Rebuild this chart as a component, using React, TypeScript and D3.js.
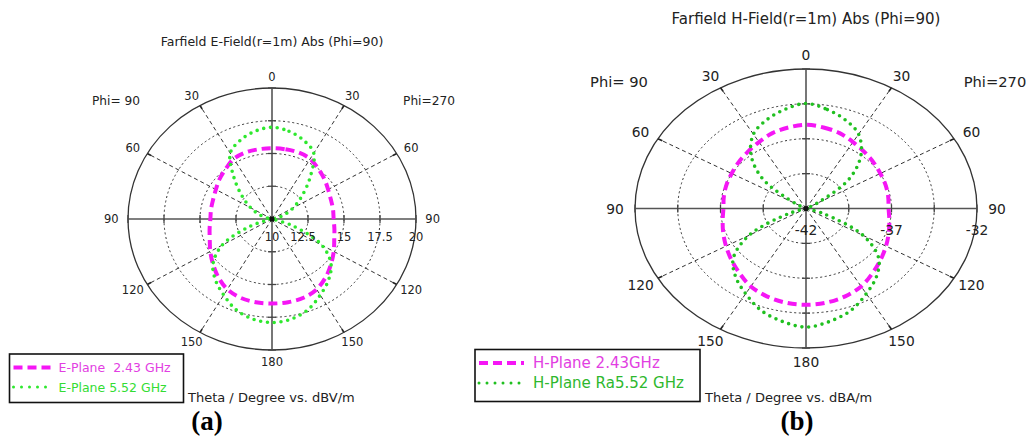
import React, { useRef, useEffect } from 'react';
import * as d3 from 'd3';

// theta samples in degrees, 0 = top; each cut is drawn on both sides (Phi=90 left, Phi=270 right)
const thetas = [0, 10, 20, 30, 40, 50, 60, 70, 80, 90, 100, 110, 120, 130, 140, 150, 160, 170, 180];

// (a) E-field, dBV/m
const ePlane243 = [15.4, 15.4, 15.4, 15.3, 15.0, 14.75, 14.5, 14.35, 14.3, 14.28, 14.4, 14.6, 14.95, 15.35, 15.8, 16.2, 16.4, 16.45, 16.45];
const ePlane552 = [17.0, 16.8, 16.4, 15.8, 14.1, 12.7, 11.7, 10.9, 10.25, 9.5, 10.0, 11.6, 14.0, 15.35, 16.1, 16.7, 17.35, 17.75, 17.9];
const eRings = [10, 12.5, 15, 17.5, 20];
const eRingLabels = ['10', '12.5', '15', '17.5', '20'];

// (b) H-field, dBA/m
const hPlane243 = [-36.0, -36.1, -36.25, -36.5, -36.7, -36.85, -36.98, -37.05, -37.12, -37.17, -37.05, -36.85, -36.6, -36.3, -35.95, -35.55, -35.3, -35.15, -35.1];
const hPlane552 = [-34.47, -34.8, -35.25, -35.85, -37.0, -38.7, -41.3, -43, -43.5, -44, -43, -40.9, -38.15, -36.45, -35.6, -34.95, -34.25, -33.8, -33.5];
const hRings = [-42, -39.5, -37, -34.5, -32];
const hRingLabels = ['-42', '', '-37', '', '-32'];

const angleTicks = [0, 30, 60, 90, 120, 150, 180];
const spokes = [30, 60, 120, 150, 210, 240, 300, 330];

const FONT = '"DejaVu Sans", Verdana, sans-serif';

interface Series {
  name: string;
  values: number[];
  color: string;
  textColor: string;
  dashed: boolean;
}

interface Panel {
  cx: number;
  cy: number;
  rx: number;
  ry: number;
  fs: number; // tick font size
  title: string;
  titleY: number;
  titleSize: number;
  rings: number[];
  ringLabels: string[];
  series: Series[];
  unit: string;
  unitX: number;
  legend: { x: number; y: number; w: number; h: number; size: number; rowGap: number };
  phiY: number;
  phiLeftX: number;
  phiRightX: number;
  phiSize: number;
  letter: string;
  letterX: number;
}

const panels: Panel[] = [
  {
    cx: 272, cy: 219, rx: 144, ry: 131, fs: 11.5,
    title: 'Farfield E-Field(r=1m) Abs (Phi=90)', titleY: 41, titleSize: 12.5,
    rings: eRings, ringLabels: eRingLabels,
    series: [
      { name: 'E-Plane  2.43 GHz', values: ePlane243, color: '#f516f5', textColor: '#e23ee2', dashed: true },
      { name: 'E-Plane 5.52 GHz', values: ePlane552, color: '#2ee82e', textColor: '#33dd33', dashed: false },
    ],
    unit: 'Theta / Degree vs. dBV/m', unitX: 188,
    legend: { x: 9.5, y: 354, w: 174, h: 48.5, size: 12.5, rowGap: 19.5 },
    phiY: 100.7, phiLeftX: 116, phiRightX: 429, phiSize: 12.2,
    letter: '(a)', letterX: 207,
  },
  {
    cx: 806, cy: 208.5, rx: 171, ry: 139.5, fs: 13.8,
    title: 'Farfield H-Field(r=1m) Abs (Phi=90)', titleY: 19, titleSize: 15,
    rings: hRings, ringLabels: hRingLabels,
    series: [
      { name: 'H-Plane 2.43GHz', values: hPlane243, color: '#f516f5', textColor: '#e23ee2', dashed: true },
      { name: 'H-Plane Ra5.52 GHz', values: hPlane552, color: '#20c020', textColor: '#2eb82e', dashed: false },
    ],
    unit: 'Theta / Degree vs. dBA/m', unitX: 705,
    legend: { x: 475, y: 349.5, w: 225, h: 52, size: 15, rowGap: 20 },
    phiY: 81, phiLeftX: 619, phiRightX: 995, phiSize: 14.7,
    letter: '(b)', letterX: 797,
  },
];

function drawPanel(svg: d3.Selection<SVGSVGElement, unknown, null, undefined>, p: Panel) {
  const g = svg.append('g');
  const { cx, cy, rx, ry } = p;
  const lo = p.rings[0];
  const hi = p.rings[p.rings.length - 1];
  const r = d3.scaleLinear().domain([lo, hi]).range([0, 1]).clamp(true);
  const rad = (deg: number) => (deg * Math.PI) / 180;
  const pt = (deg: number, f: number): [number, number] => [
    cx + f * rx * Math.sin(rad(deg)),
    cy - f * ry * Math.cos(rad(deg)),
  ];

  // dotted rings
  p.rings.slice(1, -1).forEach(v => {
    g.append('ellipse')
      .attr('cx', cx).attr('cy', cy)
      .attr('rx', r(v) * rx).attr('ry', r(v) * ry)
      .attr('fill', 'none').attr('stroke', '#333')
      .attr('stroke-width', 1).attr('stroke-dasharray', '2 2.6');
  });

  // dashed spokes
  spokes.forEach(a => {
    const [x, y] = pt(a, 1);
    g.append('line')
      .attr('x1', cx).attr('y1', cy).attr('x2', x).attr('y2', y)
      .attr('stroke', '#333').attr('stroke-width', 1).attr('stroke-dasharray', '4 3');
    const [x1, y1] = pt(a, 0.97);
    g.append('line')
      .attr('x1', x1).attr('y1', y1).attr('x2', x).attr('y2', y)
      .attr('stroke', '#222').attr('stroke-width', 1.6);
  });

  // outer ring and axes
  g.append('ellipse')
    .attr('cx', cx).attr('cy', cy).attr('rx', rx).attr('ry', ry)
    .attr('fill', 'none').attr('stroke', '#333').attr('stroke-width', 1.3);
  g.append('line').attr('x1', cx).attr('x2', cx).attr('y1', cy - ry).attr('y2', cy + ry)
    .attr('stroke', '#555').attr('stroke-width', 1.6);
  g.append('line').attr('x1', cx - rx).attr('x2', cx + rx).attr('y1', cy).attr('y2', cy)
    .attr('stroke', '#555').attr('stroke-width', 1.6);

  // small ticks on the axes at each ring
  p.rings.slice(1).forEach(v => {
    const dx = r(v) * rx;
    const dy = r(v) * ry;
    [-1, 1].forEach(s => {
      g.append('line').attr('x1', cx + s * dx).attr('x2', cx + s * dx).attr('y1', cy - 4).attr('y2', cy + 4)
        .attr('stroke', '#444').attr('stroke-width', 1.3);
      g.append('line').attr('x1', cx - 4).attr('x2', cx + 4).attr('y1', cy + s * dy).attr('y2', cy + s * dy)
        .attr('stroke', '#444').attr('stroke-width', 1.3);
    });
  });

  // pattern curves, right half then mirrored left half
  const line = d3.line<[number, number]>()
    .x(d => d[0]).y(d => d[1])
    .curve(d3.curveCatmullRomClosed.alpha(0.5));

  p.series.forEach(s => {
    const pts: [number, number][] = [];
    thetas.forEach((t, i) => pts.push(pt(t, r(s.values[i]))));
    for (let i = thetas.length - 2; i >= 1; i--) pts.push(pt(360 - thetas[i], r(s.values[i])));
    const path = g.append('path')
      .attr('d', line(pts) as string)
      .attr('fill', 'none')
      .attr('stroke', s.color);
    if (s.dashed) {
      path.attr('stroke-width', 4).attr('stroke-dasharray', '9 5');
    } else {
      path.attr('stroke-width', 3.6).attr('stroke-dasharray', '0 6.8').attr('stroke-linecap', 'round');
    }
  });

  g.append('circle').attr('cx', cx).attr('cy', cy).attr('r', 2.6).attr('fill', '#111');

  // angle labels
  const lrx = rx + p.fs * 1.45;
  const lry = ry + p.fs * 1.0;
  angleTicks.forEach(a => {
    const sides = a === 0 || a === 180 ? [1] : [1, -1];
    sides.forEach(side => {
      const x = cx + side * lrx * Math.sin(rad(a));
      const y = cy - lry * Math.cos(rad(a));
      g.append('text')
        .attr('x', x).attr('y', y)
        .attr('text-anchor', 'middle').attr('dominant-baseline', 'central')
        .attr('font-family', FONT).attr('font-size', p.fs).attr('fill', '#222')
        .text(String(a));
    });
  });

  // radial labels under the horizontal axis
  p.rings.forEach((v, i) => {
    if (!p.ringLabels[i]) return;
    const shift = p.ringLabels[i] === '12.5' ? -5 : 0;
    g.append('text')
      .attr('x', cx + r(v) * rx + shift).attr('y', cy + p.fs * 1.55)
      .attr('text-anchor', 'middle').attr('dominant-baseline', 'central')
      .attr('font-family', FONT).attr('font-size', p.fs).attr('fill', '#222')
      .text(p.ringLabels[i]);
  });

  // title and phi labels
  g.append('text')
    .attr('x', cx).attr('y', p.titleY)
    .attr('text-anchor', 'middle').attr('dominant-baseline', 'central')
    .attr('font-family', FONT).attr('font-size', p.titleSize).attr('fill', '#222')
    .text(p.title);
  [['Phi= 90', p.phiLeftX], ['Phi=270', p.phiRightX]].forEach(([t, x]) => {
    g.append('text')
      .attr('x', x as number).attr('y', p.phiY)
      .attr('text-anchor', 'middle').attr('dominant-baseline', 'central')
      .attr('font-family', FONT).attr('font-size', p.phiSize).attr('fill', '#222')
      .text(t as string);
  });

  // legend box
  const L = p.legend;
  g.append('rect')
    .attr('x', L.x).attr('y', L.y).attr('width', L.w).attr('height', L.h)
    .attr('fill', '#fff').attr('stroke', '#111').attr('stroke-width', 1.6);
  p.series.forEach((s, i) => {
    const y = L.y + 13.5 + i * L.rowGap;
    const sample = g.append('line')
      .attr('x1', L.x + 4).attr('x2', L.x + 4 + L.size * 3).attr('y1', y).attr('y2', y)
      .attr('stroke', s.color);
    if (s.dashed) {
      sample.attr('stroke-width', 4).attr('stroke-dasharray', '9 5');
    } else {
      sample.attr('stroke-width', 3).attr('stroke-dasharray', '0 8').attr('stroke-linecap', 'round');
    }
    g.append('text')
      .attr('x', L.x + 4 + L.size * 3.6).attr('y', y)
      .attr('dominant-baseline', 'central')
      .style('white-space', 'pre')
      .attr('font-family', FONT).attr('font-size', L.size).attr('fill', s.textColor)
      .text(s.name);
  });

  g.append('text')
    .attr('x', p.unitX).attr('y', 397.5)
    .attr('dominant-baseline', 'central')
    .attr('font-family', FONT).attr('font-size', 13).attr('fill', '#222')
    .text(p.unit);

  g.append('text')
    .attr('x', p.letterX).attr('y', 430)
    .attr('text-anchor', 'middle')
    .attr('font-family', '"Liberation Serif", "Times New Roman", serif')
    .attr('font-weight', 'bold').attr('font-size', 27).attr('fill', '#000')
    .text(p.letter);
}

const App: React.FC = () => {
  const svgRef = useRef<SVGSVGElement>(null);

  useEffect(() => {
    if (!svgRef.current) return;
    const svg = d3.select(svgRef.current);
    svg.selectAll('*').remove();
    panels.forEach(p => drawPanel(svg, p));
  }, []);

  return (
    <svg
      ref={svgRef}
      width={1029}
      height={442}
      style={{ position: 'absolute', left: 0, top: 0, background: '#fff' }}
    />
  );
};

export default App;
